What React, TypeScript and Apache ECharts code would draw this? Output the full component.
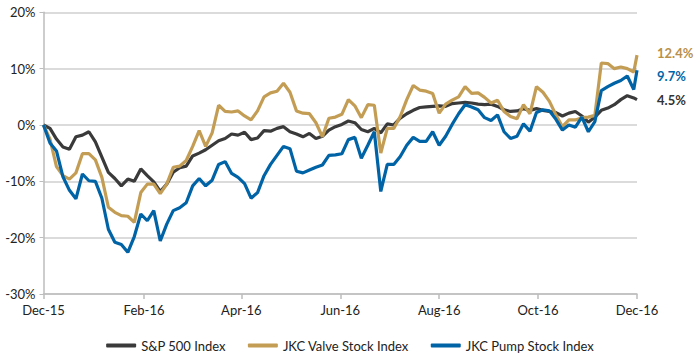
import React, { useEffect, useRef } from "react";
import * as echarts from "echarts";

const START_YEAR = 2015;
const START_MONTH = 11; // December (0-based)
const STEP_DAYS = 4;
const LAST_DAY = 366;

const SERIES_NAMES = ["S&P 500 Index", "JKC Valve Stock Index", "JKC Pump Stock Index"];
const SERIES_COLORS = ["#3a3a3a", "#C49D55", "#0063A6"];
const END_LABEL_COLORS = ["#333333", "#B8904A", "#0066A8"];

const TICK_MONTHS = [
  [2015, 11], [2016, 1], [2016, 3], [2016, 5], [2016, 7], [2016, 9], [2016, 11],
];
const MONTH_NAMES = ["Jan", "Feb", "Mar", "Apr", "May", "Jun", "Jul", "Aug", "Sep", "Oct", "Nov", "Dec"];

const sp500 = [
  0, -0.6, -2.5, -3.9, -4.3, -2.1, -1.8, -1.2, -3.0, -5.7, -8.4, -9.5, -10.8, -9.6, -10.0, -7.8, -9.0, -10.1, -11.8, -10.5, -8.4, -7.6, -7.3,
  -5.5, -5.0, -4.4, -3.6, -2.8, -2.4, -1.6, -1.8, -1.3, -2.6, -2.3, -1.0, -1.1, -0.6, -0.3, -1.2, -1.6, -2.1, -1.5, -2.4, -2.0, -0.9, -0.3,
  0.1, 0.7, 0.4, -0.8, -1.2, -0.6, -1.4, 0.2, 0.0, 1.2, 2.0, 2.6, 3.1, 3.2, 3.3, 3.4, 3.3, 3.8, 3.9, 4.0, 3.9, 3.7, 3.6, 3.7,
  3.3, 2.7, 2.4, 2.5, 2.9, 2.6, 2.9, 2.6, 2.4, 2.2, 1.6, 2.1, 2.4, 1.6, 0.5, 1.4, 2.6, 3.0, 3.6, 4.5, 5.2, 4.8, 4.5,
];

const valve = [
  0, -2.5, -7.4, -9.0, -9.6, -8.5, -5.1, -5.1, -6.2, -9.3, -14.6, -15.5, -16.1, -16.2, -17.3, -12.0, -10.5, -10.5, -12.2, -10.5, -7.5, -7.3, -6.3,
  -3.8, -1.0, -3.8, -1.4, 3.5, 2.4, 2.3, 2.5, 1.6, 0.9, 2.5, 5.0, 5.7, 6.0, 7.4, 5.8, 2.5, 2.1, 2.0, 0.4, -2.1, 1.2, 1.4,
  1.9, 4.5, 3.4, 1.3, 3.6, 3.5, -5.0, -0.6, -0.6, 1.5, 4.5, 7.0, 6.2, 6.0, 5.6, 2.1, 3.7, 4.4, 5.0, 6.8, 5.6, 5.7, 4.9, 3.9,
  4.4, 2.4, 1.5, 1.1, 3.6, 2.0, 6.8, 5.8, 4.2, 1.8, -0.3, 0.9, 0.9, 1.3, 1.4, 1.7, 11.0, 10.9, 10.0, 10.3, 10.0, 9.4, 12.4,
];

const pump = [
  0, -3.2, -4.6, -9.2, -11.6, -13.1, -8.7, -9.9, -10.0, -13.0, -18.5, -20.8, -21.2, -22.6, -19.8, -15.8, -17.0, -15.2, -20.6, -17.6, -15.2, -14.7, -13.8,
  -10.8, -9.5, -10.8, -9.8, -7.0, -6.5, -8.6, -9.3, -10.4, -13.0, -12.0, -9.0, -7.0, -5.4, -3.8, -4.2, -8.2, -8.5, -8.0, -7.5, -7.1, -5.4, -5.3,
  -5.1, -2.6, -2.2, -5.9, -3.6, -1.2, -11.8, -7.0, -7.0, -5.6, -3.6, -2.2, -2.9, -2.9, -1.2, -3.6, -2.0, 0.1, 2.0, 3.6, 3.2, 2.7, 1.3, 0.8,
  1.8, -1.2, -2.4, -2.0, 0.2, -1.1, 2.2, 2.7, 2.5, 1.0, -0.9, 0.0, -0.4, 1.4, -1.2, 0.6, 6.1, 6.8, 7.4, 7.9, 8.7, 6.3, 9.7,
];

const END_LABEL_OFFSETS = [0, -2, 6];

const DAY_MS = 86400000;

export default function App() {
  const ref = useRef<HTMLDivElement>(null);

  useEffect(() => {
    document.body.style.margin = "0";
    if (!ref.current) return;
    const chart = echarts.init(ref.current, null, { renderer: "svg" });

    const start = new Date(START_YEAR, START_MONTH, 1).getTime();
    const days: number[] = [];
    for (let d = 0; d <= LAST_DAY; d += STEP_DAYS) days.push(d);
    if (LAST_DAY % STEP_DAYS !== 0) days.push(LAST_DAY);

    const tickDays = TICK_MONTHS.map(([y, m]) => Math.round((new Date(y, m, 1).getTime() - start) / DAY_MS));
    const all = [sp500, valve, pump];
    const fontFamily = "Lato, 'Noto Sans', sans-serif";

    chart.setOption({
      animation: false,
      grid: { left: 43.5, right: 63, top: 12.3, bottom: 66, containLabel: false },
      legend: {
        bottom: 3,
        left: "center",
        icon: "roundRect",
        itemWidth: 30,
        itemHeight: 4,
        itemGap: 22,
        textStyle: { fontFamily, fontSize: 13, color: "#222" },
        data: SERIES_NAMES,
      },
      xAxis: {
        type: "value",
        min: 0,
        max: LAST_DAY,
        axisLine: { onZero: false, lineStyle: { color: "#bdbdbd", width: 1.5 } },
        axisTick: { show: true, length: 5, customValues: tickDays, lineStyle: { color: "#bdbdbd", width: 1.5 } },
        axisLabel: {
          customValues: tickDays,
          fontFamily,
          fontSize: 13,
          color: "#222",
          margin: 9,
          formatter: (v: number) => {
            const d = new Date(start + Math.round(v) * DAY_MS + DAY_MS / 2);
            return MONTH_NAMES[d.getMonth()] + "-" + String(d.getFullYear()).slice(2);
          },
        },
        splitLine: { show: false },
      },
      yAxis: {
        type: "value",
        min: -30,
        max: 20,
        interval: 10,
        axisLine: { show: true, lineStyle: { color: "#bdbdbd", width: 1.5 } },
        axisTick: { show: true, length: 4, lineStyle: { color: "#bdbdbd" } },
        axisLabel: { fontFamily, fontSize: 13, color: "#222", margin: 8, formatter: "{value}%" },
        splitLine: { show: true, lineStyle: { color: "#cfcfcf", width: 1.5 } },
      },
      series: SERIES_NAMES.map((name, i) => ({
        name,
        type: "line",
        showSymbol: false,
        symbol: "none",
        data: all[i].map((v, k) => [days[k], v]),
        lineStyle: { color: SERIES_COLORS[i], width: 3.2 },
        itemStyle: { color: SERIES_COLORS[i] },
        endLabel: {
          show: true,
          distance: 20,
          offset: [0, END_LABEL_OFFSETS[i]],
          fontFamily,
          fontSize: 13,
          fontWeight: "bold",
          color: END_LABEL_COLORS[i],
          formatter: (p: any) => p.value[1].toFixed(1) + "%",
        },
      })),
    });

    return () => chart.dispose();
  }, []);

  return <div ref={ref} style={{ width: 700, height: 360 }} />;
}
